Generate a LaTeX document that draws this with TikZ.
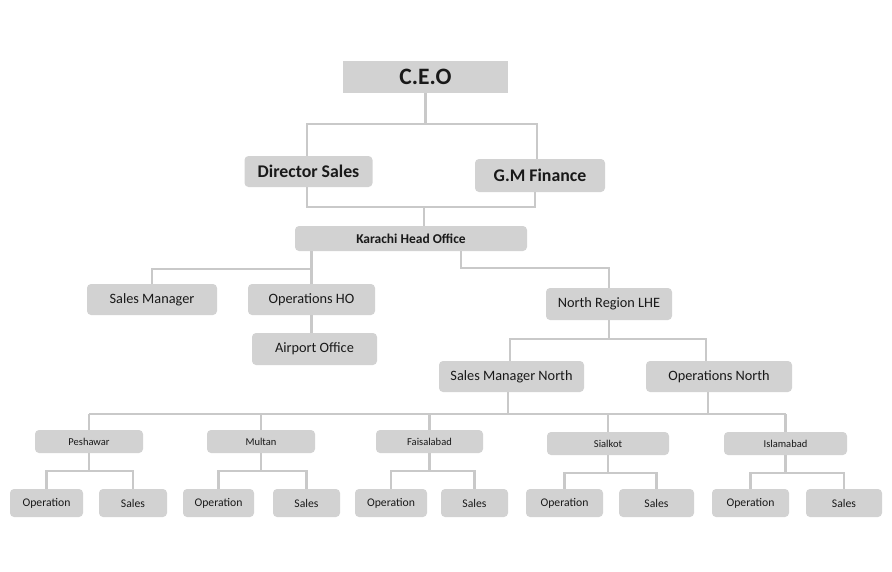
\documentclass[tikz,border=0pt]{standalone}
\usepackage{fontspec}
\setmainfont{Carlito}

\tikzset{
  org box/.style={fill=boxgray, draw=none, rounded corners=4pt,
                  inner sep=0, align=center, text=black!90},
  link/.style={draw=linegray, line width=2.2pt},
}
\colorlet{boxgray}{gray!35}
\colorlet{linegray}{gray!42}

\begin{document}
\begin{tikzpicture}[x=1pt, y=-1pt,
      top/.style={org box, font=\fontsize{17.8}{20}\selectfont\bfseries},
      mid/.style={org box, minimum height=31pt, font=\fontsize{14.3}{16}\selectfont},
      city/.style={org box, minimum height=23pt, font=\fontsize{10.5}{12}\selectfont},
      leaf/.style={org box, minimum height=28pt, font=\fontsize{11.7}{13}\selectfont},
    ]
    \useasboundingbox (0,0) rectangle (892,571);

    % Head
    \node[org box, rounded corners=0, minimum width=165pt, minimum height=32pt,
          font=\fontsize{23.5}{26}\selectfont\bfseries] (ceo) at (425.5,77) {C.E.O};

    % Directors
    \node[top, minimum width=128pt, minimum height=31pt] (dirsales) at (308.5,171.5) {Director Sales};
    \node[top, minimum width=130pt, minimum height=33pt] (gmfin) at (540,175.5) {G.M Finance};

    % Head office and its units
    \node[org box, minimum width=232pt, minimum height=25pt,
          font=\fontsize{13.5}{15}\selectfont\bfseries] (khi) at (411,238.5) {Karachi Head Office};
    \node[mid, minimum width=130pt] (salesmgr) at (152,299.5) {Sales Manager};
    \node[mid, minimum width=127pt] (opsho) at (311.5,299.5) {Operations HO};
    \node[mid, minimum width=125pt, minimum height=32pt] (airport) at (314.5,349) {Airport Office};
    \node[mid, minimum width=126pt, minimum height=32pt] (north) at (609,304) {North Region LHE};
    \node[mid, minimum width=145pt] (smnorth) at (511.5,376.5) {Sales Manager North};
    \node[mid, minimum width=146pt] (opsnorth) at (719,376.5) {Operations North};

    % Links, upper part
    \draw[link] (ceo.south) -- ++(0,31) coordinate (ceo bus);
    \draw[link] ([xshift=-1.5pt]dirsales.north) |- (ceo bus) -| ([xshift=-3pt]gmfin.north);
    \coordinate (dir bus) at (424,207);
    \draw[link] ([xshift=-1.5pt]dirsales.south) |- (dir bus) -| ([xshift=-5pt]gmfin.south);
    \draw[link] (dir bus) -- (dir bus |- khi.north);

    \path (khi.south -| opsho.north) ++(0,18) coordinate (khi bus);
    \draw[link] (khi.south -| opsho.north) -- (opsho.north);
    \draw[link] (salesmgr.north) |- (khi bus);
    \draw[link] (opsho.south) -- (opsho.south |- airport.north);
    \draw[link] ([xshift=50pt]khi.south) -- ++(0,17) -| (north.north);
    \draw[link] (north.south) -- ++(0,19) coordinate (north bus);
    \draw[link] ([xshift=-1.5pt]smnorth.north) |- (north bus) -| ([xshift=-13pt]opsnorth.north);

    % Bus to the cities
    \coordinate (city bus) at (0,414);
    \draw[link] ([xshift=-3.5pt]smnorth.south) -- ++(0,22);
    \draw[link] ([xshift=-11pt]opsnorth.south) -- ++(0,22);

    \foreach \id/\city/\cx/\cy/\w/\opx/\ow/\slx/\sw in {
      pesh/Peshawar/89/441.5/108/46.5/73/133/68,
      mul/Multan/261/441.5/108/218.5/71/306.5/67,
      fsd/Faisalabad/429.5/441.5/107/391/72/474.5/67,
      skt/Sialkot/608/443.5/122/564.5/77/656.5/75,
      isb/Islamabad/785.5/443.5/123/750.5/77/844/76} {

      % City office
      \node[city, minimum width=\w pt] (\id) at (\cx,\cy) {\city};

      % Operation and sales below it
      \node[leaf, minimum width=\ow pt] (op\id) at (\opx,503) {Operation};
      \node[leaf, minimum width=\sw pt] (sl\id) at (\slx,503) {Sales};

      \draw[link] (\id.north) -- (\id.north |- city bus);
      \draw[link] (\id.south) -- ++(0,18) coordinate (\id bus);
      \draw[link] (op\id.north) |- (\id bus) -| (sl\id.north);
    }
    \draw[link] (pesh.north |- city bus) -- (isb.north |- city bus);
  \end{tikzpicture}
\end{document}
